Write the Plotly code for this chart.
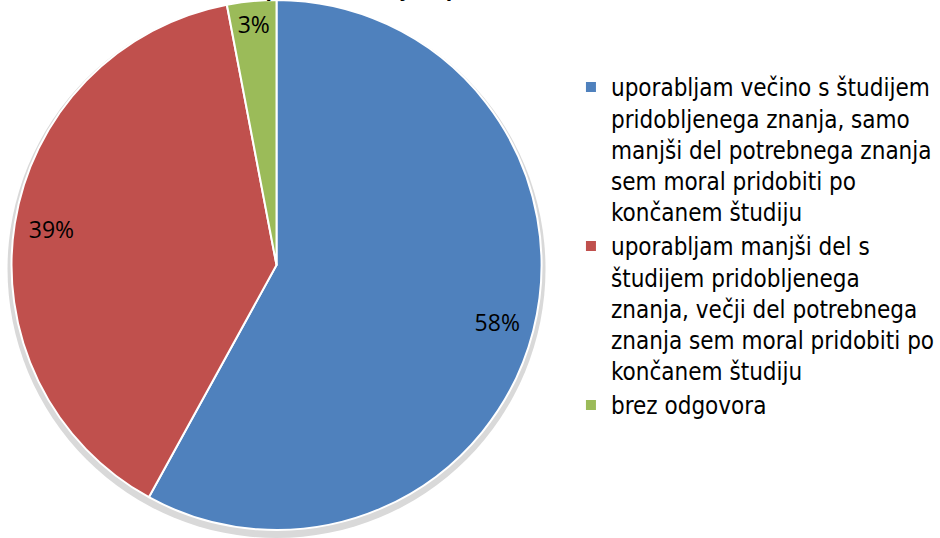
import plotly.graph_objects as go

labels = [
    "uporabljam večino s študijem<br>pridobljenega znanja, samo<br>manjši del potrebnega znanja<br>sem moral pridobiti po<br>končanem študiju",
    "uporabljam manjši del s<br>študijem pridobljenega<br>znanja, večji del potrebnega<br>znanja sem moral pridobiti po<br>končanem študiju",
    "brez odgovora",
]
values = [58, 39, 3]
colors = ["#4F81BD", "#C0504D", "#9BBB59"]
title_text = "Uporaba znanja v praksi"

W, H = 940, 538

fig = go.Figure()

# soft shadow ring behind the pie
fig.add_trace(go.Pie(
    values=[1], labels=["shadow"], marker=dict(colors=["#d9d9d9"], line=dict(width=0)),
    domain=dict(x=[0, 556 / W], y=[0, 1]), textinfo="none", hoverinfo="skip",
    showlegend=False, sort=False,
))

# main pie
fig.add_trace(go.Pie(
    labels=labels, values=values, sort=False, direction="clockwise", rotation=0,
    marker=dict(colors=colors, line=dict(color="white", width=2)),
    domain=dict(x=[0, 556 / W], y=[(H - 530) / H, 1]),
    textinfo="none", hoverinfo="label+percent", showlegend=True,
))

# label layer (transparent ring so labels sit near the rim)
fig.add_trace(go.Pie(
    labels=labels, values=values, sort=False, direction="clockwise", rotation=0,
    hole=0.72,
    marker=dict(colors=["rgba(0,0,0,0)"] * 3, line=dict(width=0)),
    domain=dict(x=[0, 556 / W], y=[(H - 530) / H, 1]),
    texttemplate="%{percent:.0%}", textposition="inside",
    insidetextorientation="horizontal",
    textfont=dict(family="Open Sans", size=23, color="black"),
    hoverinfo="skip", showlegend=False,
))

fig.add_annotation(
    text="<b>" + title_text + "</b>", xref="paper", yref="paper",
    x=248 / W, y=1 - 3 / H, xanchor="left", yanchor="bottom", showarrow=False,
    font=dict(family="Liberation Sans", size=23, color="black"),
)

fig.update_layout(
    width=W, height=H,
    margin=dict(l=0, r=0, t=0, b=0),
    paper_bgcolor="white", plot_bgcolor="white",
    legend=dict(
        x=574 / W, y=1 - 65 / H, xanchor="left", yanchor="top",
        font=dict(family="DejaVu Sans Condensed, Open Sans", size=24, color="black"),
        valign="top", traceorder="normal", bgcolor="rgba(0,0,0,0)",
    ),
)

fig.write_html(
    "out.html",
    config={"displayModeBar": False},
    post_script="document.body.style.margin='0';document.body.style.overflow='hidden';",
)
